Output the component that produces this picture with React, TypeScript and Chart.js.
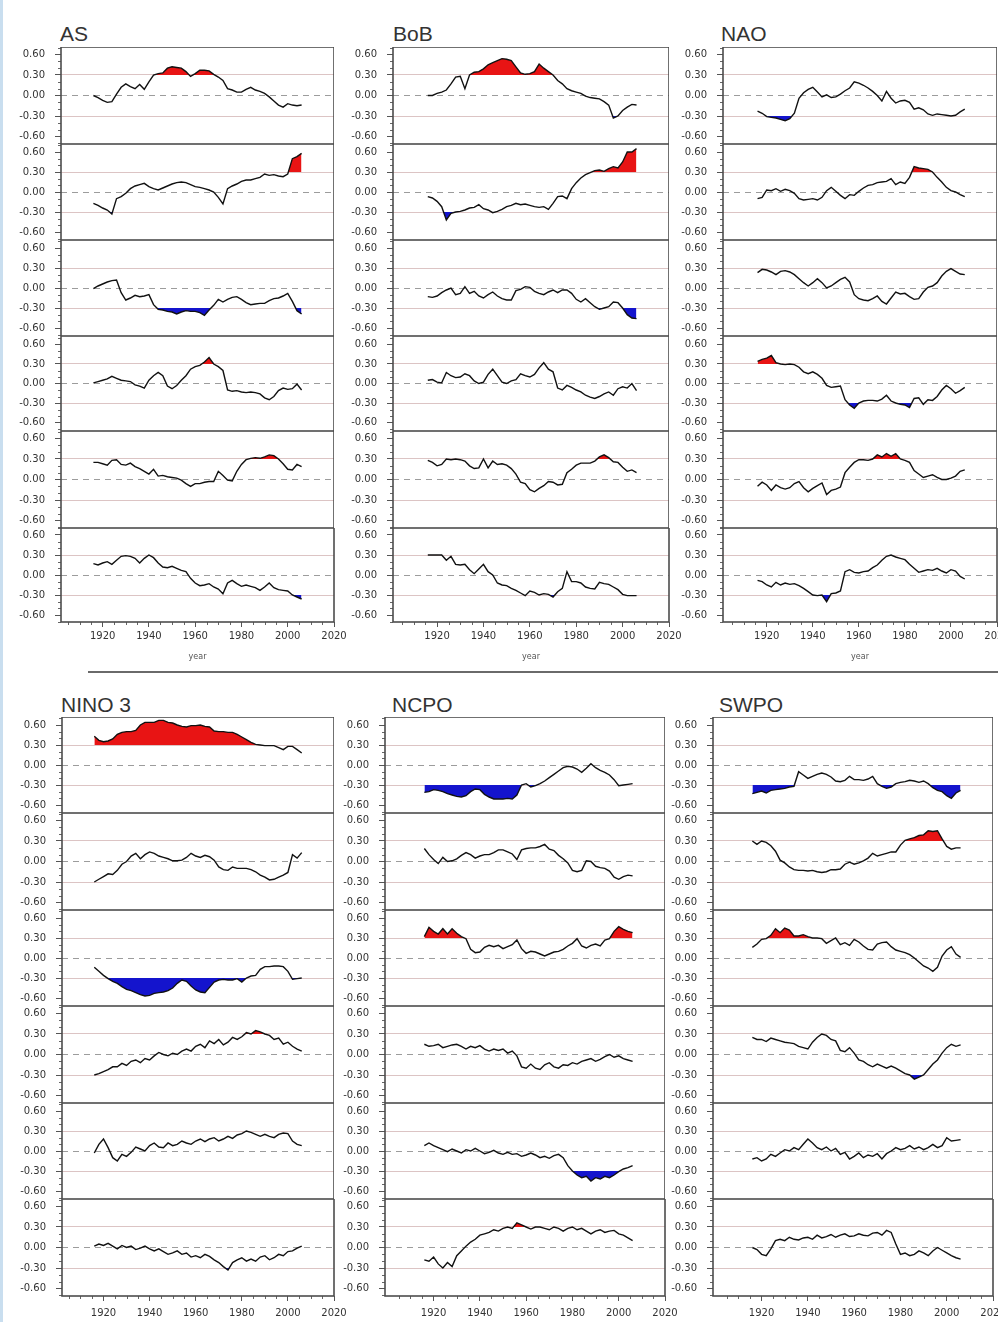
import React, { useEffect, useRef } from 'react';
import { Chart, registerables } from 'chart.js';

Chart.register(...registerables);

const FONT = '"DejaVu Sans", Verdana, sans-serif';
const TITLE_FONT = '"Liberation Sans", Arial, sans-serif';
Chart.defaults.font.family = FONT;

// ---------------- data ----------------
const YEARS = [1916, 1918, 1920, 1922, 1924, 1926, 1928, 1930, 1932, 1934, 1936, 1938, 1940, 1942, 1944, 1946, 1948, 1950, 1952, 1954, 1956, 1958, 1960, 1962, 1964, 1966, 1968, 1970, 1972, 1974, 1976, 1978, 1980, 1982, 1984, 1986, 1988, 1990, 1992, 1994, 1996, 1998, 2000, 2002, 2004, 2006];

const X_TICKS = [1920, 1940, 1960, 1980, 2000, 2020];
const X_MINOR = [1905, 1910, 1915, 1925, 1930, 1935, 1945, 1950, 1955, 1965, 1970, 1975, 1985, 1990, 1995, 2005, 2010, 2015];
const Y_TICKS = [-0.6, -0.3, 0, 0.3, 0.6];
const Y_MINOR = [-0.7, -0.5, -0.4, -0.2, -0.1, 0.1, 0.2, 0.4, 0.5, 0.7];
const HI = 0.3;
const LO = -0.3;

const AS_1 = [0.00, -0.03, -0.07, -0.10, -0.09, 0.02, 0.12, 0.17, 0.13, 0.10, 0.16, 0.09, 0.20, 0.30, 0.32, 0.33, 0.40, 0.42, 0.41, 0.40, 0.35, 0.28, 0.32, 0.37, 0.37, 0.36, 0.31, 0.27, 0.22, 0.10, 0.08, 0.05, 0.05, 0.09, 0.12, 0.08, 0.06, 0.03, -0.02, -0.08, -0.14, -0.17, -0.12, -0.14, -0.15, -0.14];
const AS_2 = [-0.17, -0.20, -0.24, -0.27, -0.33, -0.10, -0.07, -0.02, 0.05, 0.09, 0.11, 0.13, 0.08, 0.05, 0.03, 0.06, 0.09, 0.12, 0.14, 0.15, 0.14, 0.11, 0.08, 0.07, 0.05, 0.03, 0.00, -0.08, -0.18, 0.05, 0.09, 0.12, 0.16, 0.18, 0.18, 0.20, 0.22, 0.27, 0.25, 0.26, 0.24, 0.23, 0.27, 0.50, 0.53, 0.58];
const AS_3 = [-0.01, 0.03, 0.06, 0.09, 0.11, 0.12, -0.07, -0.18, -0.15, -0.11, -0.13, -0.12, -0.10, -0.25, -0.32, -0.33, -0.35, -0.36, -0.39, -0.36, -0.34, -0.35, -0.35, -0.37, -0.41, -0.33, -0.26, -0.17, -0.21, -0.17, -0.14, -0.13, -0.17, -0.22, -0.25, -0.24, -0.23, -0.23, -0.19, -0.16, -0.15, -0.12, -0.08, -0.20, -0.34, -0.39];
const AS_4 = [0.01, 0.03, 0.05, 0.07, 0.11, 0.08, 0.05, 0.04, 0.03, -0.02, -0.04, -0.07, 0.05, 0.12, 0.17, 0.12, -0.04, -0.08, -0.03, 0.05, 0.12, 0.22, 0.26, 0.28, 0.33, 0.40, 0.30, 0.26, 0.20, -0.10, -0.12, -0.11, -0.13, -0.14, -0.13, -0.14, -0.16, -0.22, -0.25, -0.20, -0.11, -0.07, -0.09, -0.08, -0.01, -0.10];
const AS_5 = [0.25, 0.25, 0.23, 0.21, 0.28, 0.29, 0.22, 0.21, 0.24, 0.19, 0.16, 0.12, 0.08, 0.15, 0.05, 0.06, 0.04, 0.03, 0.02, -0.01, -0.06, -0.10, -0.06, -0.06, -0.04, -0.03, -0.03, 0.12, 0.06, -0.01, -0.02, 0.12, 0.22, 0.29, 0.31, 0.32, 0.31, 0.33, 0.36, 0.35, 0.30, 0.23, 0.15, 0.14, 0.22, 0.19];
const AS_6 = [0.17, 0.15, 0.18, 0.20, 0.16, 0.22, 0.28, 0.29, 0.28, 0.25, 0.18, 0.25, 0.30, 0.26, 0.18, 0.12, 0.11, 0.13, 0.10, 0.07, 0.05, -0.05, -0.12, -0.16, -0.15, -0.13, -0.18, -0.21, -0.28, -0.12, -0.08, -0.13, -0.17, -0.15, -0.17, -0.19, -0.23, -0.18, -0.12, -0.19, -0.22, -0.23, -0.24, -0.30, -0.33, -0.36];

const BOB_1 = [0.00, 0.00, 0.03, 0.05, 0.08, 0.17, 0.27, 0.28, 0.10, 0.30, 0.34, 0.35, 0.39, 0.45, 0.48, 0.51, 0.54, 0.53, 0.51, 0.42, 0.33, 0.31, 0.32, 0.35, 0.46, 0.40, 0.35, 0.30, 0.22, 0.17, 0.10, 0.07, 0.05, 0.03, -0.01, -0.03, -0.04, -0.05, -0.09, -0.14, -0.33, -0.30, -0.22, -0.17, -0.13, -0.14];
const BOB_2 = [-0.07, -0.09, -0.14, -0.22, -0.42, -0.32, -0.30, -0.29, -0.27, -0.24, -0.23, -0.19, -0.25, -0.27, -0.31, -0.29, -0.26, -0.22, -0.20, -0.17, -0.19, -0.18, -0.20, -0.22, -0.23, -0.22, -0.26, -0.17, -0.07, -0.06, -0.10, 0.05, 0.14, 0.21, 0.26, 0.29, 0.32, 0.33, 0.31, 0.35, 0.38, 0.36, 0.45, 0.60, 0.60, 0.65];
const BOB_3 = [-0.13, -0.14, -0.12, -0.07, -0.03, 0.00, -0.10, -0.08, 0.02, -0.08, -0.05, -0.12, -0.15, -0.10, -0.06, -0.12, -0.16, -0.18, -0.18, -0.04, -0.02, 0.02, 0.01, -0.05, -0.08, -0.10, -0.06, -0.03, -0.07, -0.03, -0.03, -0.08, -0.17, -0.21, -0.16, -0.22, -0.28, -0.32, -0.30, -0.28, -0.21, -0.22, -0.30, -0.40, -0.45, -0.46];
const BOB_4 = [0.05, 0.06, 0.02, 0.01, 0.17, 0.12, 0.09, 0.10, 0.15, 0.12, 0.04, 0.00, 0.02, 0.14, 0.22, 0.12, 0.02, 0.00, 0.04, 0.06, 0.15, 0.12, 0.10, 0.14, 0.24, 0.32, 0.22, 0.18, -0.07, -0.10, -0.03, -0.06, -0.10, -0.13, -0.18, -0.21, -0.23, -0.20, -0.16, -0.13, -0.18, -0.08, -0.05, -0.07, 0.00, -0.11];
const BOB_5 = [0.28, 0.25, 0.20, 0.22, 0.30, 0.29, 0.30, 0.29, 0.27, 0.20, 0.16, 0.17, 0.30, 0.17, 0.27, 0.22, 0.23, 0.21, 0.16, 0.08, -0.04, -0.06, -0.15, -0.18, -0.13, -0.09, -0.03, -0.04, -0.08, -0.07, 0.10, 0.15, 0.21, 0.24, 0.24, 0.24, 0.27, 0.33, 0.36, 0.32, 0.26, 0.25, 0.18, 0.12, 0.14, 0.10];
const BOB_6 = [0.30, 0.30, 0.30, 0.30, 0.22, 0.28, 0.16, 0.15, 0.16, 0.08, 0.02, 0.09, 0.16, 0.05, 0.00, -0.12, -0.15, -0.16, -0.20, -0.23, -0.27, -0.31, -0.24, -0.26, -0.30, -0.28, -0.29, -0.33, -0.25, -0.20, 0.05, -0.10, -0.10, -0.12, -0.18, -0.20, -0.21, -0.11, -0.13, -0.14, -0.18, -0.22, -0.29, -0.31, -0.31, -0.31];

const NAO_1 = [-0.23, -0.26, -0.31, -0.32, -0.33, -0.35, -0.37, -0.34, -0.26, -0.04, 0.04, 0.09, 0.12, 0.05, -0.02, 0.01, -0.03, -0.02, 0.02, 0.07, 0.11, 0.20, 0.18, 0.15, 0.11, 0.06, 0.00, -0.08, 0.06, -0.04, -0.11, -0.08, -0.07, -0.10, -0.20, -0.18, -0.21, -0.27, -0.29, -0.27, -0.28, -0.29, -0.30, -0.29, -0.24, -0.20];
const NAO_2 = [-0.10, -0.08, 0.03, 0.02, 0.05, 0.01, 0.04, 0.02, -0.02, -0.10, -0.12, -0.11, -0.10, -0.12, -0.08, 0.02, 0.07, 0.01, -0.05, -0.10, -0.04, -0.05, 0.01, 0.06, 0.10, 0.11, 0.14, 0.15, 0.16, 0.20, 0.11, 0.15, 0.13, 0.22, 0.38, 0.36, 0.35, 0.34, 0.30, 0.22, 0.15, 0.07, 0.02, 0.00, -0.04, -0.07];
const NAO_3 = [0.23, 0.28, 0.27, 0.24, 0.20, 0.25, 0.26, 0.24, 0.20, 0.14, 0.08, 0.03, 0.08, 0.14, 0.08, 0.00, 0.03, 0.08, 0.13, 0.16, 0.09, -0.10, -0.16, -0.18, -0.19, -0.16, -0.12, -0.20, -0.24, -0.15, -0.06, -0.09, -0.08, -0.13, -0.17, -0.16, -0.06, 0.01, 0.03, 0.08, 0.18, 0.25, 0.29, 0.25, 0.21, 0.20];
const NAO_4 = [0.34, 0.37, 0.39, 0.43, 0.32, 0.30, 0.29, 0.30, 0.29, 0.25, 0.18, 0.15, 0.18, 0.14, 0.08, -0.03, -0.06, -0.05, -0.04, -0.25, -0.33, -0.38, -0.30, -0.27, -0.26, -0.26, -0.27, -0.24, -0.18, -0.27, -0.30, -0.32, -0.33, -0.37, -0.23, -0.22, -0.32, -0.25, -0.26, -0.20, -0.10, -0.03, -0.08, -0.15, -0.11, -0.06];
const NAO_5 = [-0.10, -0.04, -0.08, -0.16, -0.08, -0.12, -0.14, -0.12, -0.06, -0.03, -0.12, -0.18, -0.13, -0.09, -0.05, -0.22, -0.16, -0.14, -0.11, 0.10, 0.18, 0.25, 0.29, 0.29, 0.28, 0.30, 0.36, 0.33, 0.38, 0.34, 0.38, 0.30, 0.28, 0.25, 0.13, 0.08, 0.03, 0.05, 0.07, 0.03, 0.00, 0.00, 0.02, 0.05, 0.12, 0.14];
const NAO_6 = [-0.08, -0.10, -0.15, -0.18, -0.11, -0.15, -0.12, -0.14, -0.13, -0.16, -0.20, -0.25, -0.30, -0.31, -0.30, -0.40, -0.28, -0.27, -0.24, 0.05, 0.08, 0.04, 0.03, 0.05, 0.06, 0.11, 0.15, 0.22, 0.28, 0.30, 0.27, 0.25, 0.23, 0.16, 0.10, 0.04, 0.06, 0.08, 0.07, 0.10, 0.06, 0.03, 0.08, 0.06, -0.02, -0.06];

const NINO3_1 = [0.43, 0.37, 0.35, 0.36, 0.39, 0.46, 0.49, 0.50, 0.50, 0.52, 0.60, 0.64, 0.64, 0.64, 0.67, 0.67, 0.64, 0.63, 0.60, 0.58, 0.57, 0.59, 0.59, 0.60, 0.58, 0.57, 0.51, 0.50, 0.50, 0.49, 0.49, 0.46, 0.42, 0.38, 0.34, 0.31, 0.30, 0.29, 0.29, 0.29, 0.26, 0.23, 0.28, 0.28, 0.23, 0.18];
const NINO3_2 = [-0.30, -0.26, -0.22, -0.18, -0.19, -0.13, -0.04, 0.00, 0.08, 0.12, 0.04, 0.10, 0.14, 0.12, 0.08, 0.06, 0.04, 0.01, 0.01, 0.02, 0.06, 0.12, 0.08, 0.06, 0.09, 0.07, 0.02, -0.08, -0.12, -0.13, -0.08, -0.10, -0.10, -0.10, -0.12, -0.15, -0.20, -0.23, -0.27, -0.26, -0.23, -0.20, -0.16, 0.10, 0.05, 0.13];
const NINO3_3 = [-0.14, -0.20, -0.26, -0.31, -0.35, -0.38, -0.43, -0.47, -0.49, -0.52, -0.55, -0.57, -0.56, -0.53, -0.52, -0.51, -0.49, -0.45, -0.38, -0.33, -0.35, -0.42, -0.48, -0.51, -0.52, -0.44, -0.36, -0.33, -0.32, -0.33, -0.33, -0.31, -0.36, -0.30, -0.27, -0.26, -0.17, -0.13, -0.13, -0.12, -0.12, -0.13, -0.20, -0.32, -0.31, -0.30];
const NINO3_4 = [-0.30, -0.28, -0.25, -0.22, -0.18, -0.18, -0.13, -0.16, -0.10, -0.08, -0.12, -0.06, -0.08, -0.02, 0.03, 0.00, -0.02, 0.02, 0.00, 0.05, 0.08, 0.05, 0.12, 0.15, 0.10, 0.20, 0.16, 0.22, 0.14, 0.18, 0.25, 0.22, 0.26, 0.32, 0.30, 0.35, 0.33, 0.30, 0.28, 0.22, 0.24, 0.15, 0.18, 0.12, 0.08, 0.05];
const NINO3_5 = [-0.03, 0.10, 0.18, 0.05, -0.10, -0.15, -0.05, -0.08, -0.02, 0.06, 0.03, 0.00, 0.08, 0.12, 0.06, 0.05, 0.12, 0.08, 0.10, 0.15, 0.12, 0.10, 0.15, 0.18, 0.14, 0.18, 0.20, 0.15, 0.18, 0.22, 0.19, 0.24, 0.26, 0.30, 0.28, 0.25, 0.22, 0.25, 0.22, 0.20, 0.25, 0.27, 0.26, 0.15, 0.10, 0.08];
const NINO3_6 = [0.02, 0.05, 0.03, 0.06, 0.02, -0.02, 0.03, 0.00, 0.02, -0.03, -0.01, 0.02, -0.02, -0.05, -0.02, -0.06, -0.10, -0.08, -0.05, -0.10, -0.08, -0.14, -0.12, -0.15, -0.10, -0.13, -0.18, -0.22, -0.28, -0.33, -0.22, -0.18, -0.15, -0.20, -0.17, -0.20, -0.14, -0.12, -0.18, -0.15, -0.10, -0.12, -0.06, -0.05, -0.01, 0.02];

const NCPO_1 = [-0.41, -0.40, -0.37, -0.38, -0.40, -0.43, -0.45, -0.47, -0.48, -0.46, -0.40, -0.36, -0.37, -0.44, -0.48, -0.51, -0.51, -0.51, -0.50, -0.51, -0.45, -0.30, -0.28, -0.33, -0.31, -0.28, -0.24, -0.19, -0.14, -0.09, -0.04, -0.02, -0.03, -0.06, -0.11, -0.05, 0.02, -0.04, -0.08, -0.11, -0.15, -0.22, -0.31, -0.30, -0.29, -0.28];
const NCPO_2 = [0.19, 0.10, 0.03, -0.03, 0.06, 0.00, 0.01, 0.04, 0.09, 0.13, 0.10, 0.05, 0.08, 0.10, 0.10, 0.13, 0.17, 0.17, 0.14, 0.11, 0.03, 0.17, 0.19, 0.20, 0.20, 0.22, 0.25, 0.18, 0.16, 0.09, 0.04, -0.02, -0.13, -0.15, -0.13, 0.01, 0.00, -0.07, -0.09, -0.10, -0.14, -0.23, -0.26, -0.22, -0.20, -0.21];
const NCPO_3 = [0.32, 0.46, 0.40, 0.36, 0.44, 0.36, 0.44, 0.37, 0.32, 0.29, 0.13, 0.08, 0.09, 0.16, 0.19, 0.17, 0.19, 0.14, 0.17, 0.20, 0.27, 0.14, 0.07, 0.10, 0.09, 0.06, 0.03, 0.06, 0.09, 0.10, 0.13, 0.18, 0.22, 0.29, 0.18, 0.15, 0.19, 0.21, 0.18, 0.27, 0.29, 0.40, 0.47, 0.43, 0.40, 0.38];
const NCPO_4 = [0.15, 0.12, 0.13, 0.15, 0.10, 0.12, 0.14, 0.15, 0.12, 0.08, 0.12, 0.10, 0.13, 0.08, 0.05, 0.08, 0.06, 0.08, 0.02, 0.05, -0.02, -0.18, -0.20, -0.14, -0.20, -0.22, -0.15, -0.12, -0.18, -0.20, -0.15, -0.16, -0.12, -0.14, -0.10, -0.08, -0.06, -0.10, -0.07, -0.03, 0.00, -0.04, -0.02, -0.06, -0.08, -0.10];
const NCPO_5 = [0.08, 0.12, 0.08, 0.05, 0.02, -0.01, 0.03, 0.00, -0.03, 0.02, 0.00, 0.04, 0.00, -0.04, -0.02, 0.01, -0.03, -0.05, -0.02, -0.05, -0.04, -0.08, -0.06, -0.03, -0.06, -0.10, -0.08, -0.11, -0.07, -0.05, -0.10, -0.22, -0.30, -0.36, -0.40, -0.38, -0.45, -0.40, -0.42, -0.38, -0.40, -0.36, -0.31, -0.27, -0.25, -0.22];
const NCPO_6 = [-0.18, -0.20, -0.14, -0.24, -0.30, -0.22, -0.28, -0.12, -0.05, 0.02, 0.08, 0.12, 0.18, 0.20, 0.22, 0.26, 0.24, 0.28, 0.30, 0.28, 0.36, 0.33, 0.30, 0.27, 0.30, 0.30, 0.28, 0.26, 0.30, 0.28, 0.24, 0.28, 0.30, 0.26, 0.28, 0.24, 0.20, 0.24, 0.26, 0.22, 0.24, 0.25, 0.20, 0.18, 0.14, 0.10];

const SWPO_1 = [-0.43, -0.41, -0.39, -0.42, -0.38, -0.37, -0.36, -0.35, -0.33, -0.32, -0.10, -0.15, -0.20, -0.17, -0.14, -0.12, -0.14, -0.18, -0.24, -0.25, -0.23, -0.17, -0.22, -0.22, -0.23, -0.21, -0.17, -0.28, -0.32, -0.35, -0.33, -0.28, -0.26, -0.25, -0.23, -0.24, -0.26, -0.24, -0.28, -0.34, -0.38, -0.40, -0.46, -0.50, -0.42, -0.38];
const SWPO_2 = [0.30, 0.25, 0.30, 0.28, 0.23, 0.15, 0.02, -0.02, -0.08, -0.12, -0.13, -0.13, -0.14, -0.13, -0.15, -0.16, -0.15, -0.12, -0.12, -0.11, -0.04, -0.01, -0.04, -0.02, 0.01, 0.05, 0.12, 0.08, 0.10, 0.12, 0.14, 0.14, 0.24, 0.31, 0.33, 0.35, 0.38, 0.39, 0.45, 0.44, 0.45, 0.33, 0.22, 0.18, 0.20, 0.20];
const SWPO_3 = [0.16, 0.21, 0.28, 0.29, 0.34, 0.44, 0.38, 0.45, 0.42, 0.33, 0.33, 0.35, 0.32, 0.30, 0.30, 0.29, 0.22, 0.26, 0.30, 0.20, 0.23, 0.19, 0.28, 0.24, 0.18, 0.13, 0.12, 0.21, 0.23, 0.24, 0.17, 0.12, 0.10, 0.08, 0.05, 0.00, -0.06, -0.12, -0.15, -0.20, -0.14, 0.03, 0.12, 0.17, 0.06, 0.01];
const SWPO_4 = [0.25, 0.22, 0.22, 0.19, 0.24, 0.22, 0.20, 0.18, 0.17, 0.16, 0.12, 0.10, 0.08, 0.18, 0.25, 0.30, 0.28, 0.22, 0.20, 0.06, 0.04, 0.10, 0.02, -0.08, -0.10, -0.15, -0.18, -0.14, -0.17, -0.20, -0.17, -0.20, -0.24, -0.28, -0.30, -0.36, -0.33, -0.30, -0.22, -0.14, -0.08, 0.02, 0.10, 0.15, 0.12, 0.14];
const SWPO_5 = [-0.12, -0.10, -0.15, -0.12, -0.05, -0.08, -0.03, 0.02, 0.00, 0.05, 0.02, 0.10, 0.18, 0.12, 0.05, 0.02, 0.06, 0.00, 0.04, -0.05, -0.02, -0.12, -0.08, -0.03, -0.10, -0.06, -0.08, -0.04, -0.12, -0.04, 0.00, 0.05, 0.02, 0.04, 0.08, 0.03, 0.06, 0.02, 0.05, 0.10, 0.05, 0.08, 0.20, 0.15, 0.16, 0.17];
const SWPO_6 = [0.00, -0.03, -0.10, -0.12, -0.02, 0.10, 0.12, 0.10, 0.15, 0.12, 0.11, 0.14, 0.15, 0.12, 0.18, 0.14, 0.16, 0.19, 0.15, 0.18, 0.20, 0.16, 0.17, 0.20, 0.18, 0.17, 0.21, 0.22, 0.18, 0.25, 0.22, 0.05, -0.10, -0.08, -0.12, -0.10, -0.05, -0.08, -0.12, -0.05, 0.00, -0.04, -0.08, -0.12, -0.15, -0.17];

// ---------------- layout / style ----------------
const RED = 'rgb(232,20,20)';
const BLUE = 'rgb(20,20,205)';
const CLEAR = 'rgba(0,0,0,0)';
const Y_W = 48;
const RIGHT_PAD = 22;

const HALVES = [
  { edges: [47, 144, 240, 336, 431, 528, 622], titleTop: 22, labelPad: 3, axisH: 40, yearTitle: true },
  { edges: [717, 813, 910, 1006, 1103, 1199, 1296], titleTop: 693, labelPad: 6, axisH: 26, yearTitle: false },
];

const GROUPS = [
  { title: 'AS', half: 0, left: 61, right: 334, xMin: 1902, titleLeft: 60, series: [AS_1, AS_2, AS_3, AS_4, AS_5, AS_6] },
  { title: 'BoB', half: 0, left: 393, right: 669, xMin: 1901, titleLeft: 393, series: [BOB_1, BOB_2, BOB_3, BOB_4, BOB_5, BOB_6] },
  { title: 'NAO', half: 0, left: 723, right: 997, xMin: 1901, titleLeft: 721, series: [NAO_1, NAO_2, NAO_3, NAO_4, NAO_5, NAO_6] },
  { title: 'NINO 3', half: 1, left: 62, right: 334, xMin: 1902, titleLeft: 61, series: [NINO3_1, NINO3_2, NINO3_3, NINO3_4, NINO3_5, NINO3_6] },
  { title: 'NCPO', half: 1, left: 385, right: 665, xMin: 1899, titleLeft: 392, series: [NCPO_1, NCPO_2, NCPO_3, NCPO_4, NCPO_5, NCPO_6] },
  { title: 'SWPO', half: 1, left: 713, right: 993, xMin: 1899, titleLeft: 719, series: [SWPO_1, SWPO_2, SWPO_3, SWPO_4, SWPO_5, SWPO_6] },
];

function gridColor(v: any) {
  if (v === undefined || v === null) return CLEAR;
  if (Math.abs(v) < 1e-9) return '#9c9c9c';
  if (Math.abs(Math.abs(v) - 0.3) < 1e-9) return '#dcc4c4';
  return CLEAR;
}

const framePlugin = {
  id: 'frame',
  afterDraw(chart: any, _args: any, opts: any) {
    const { ctx, chartArea: a, scales } = chart;
    ctx.save();
    ctx.strokeStyle = '#666';
    ctx.lineWidth = 1;
    ctx.beginPath();
    for (const v of Y_MINOR) {
      const y = Math.round(scales.y.getPixelForValue(v)) + 0.5;
      ctx.moveTo(a.left - 3, y);
      ctx.lineTo(a.left, y);
    }
    if (opts && opts.bottom) {
      for (const v of X_MINOR) {
        if (v < scales.x.min || v > scales.x.max) continue;
        const x = Math.round(scales.x.getPixelForValue(v)) + 0.5;
        ctx.moveTo(x, a.bottom);
        ctx.lineTo(x, a.bottom + 3);
      }
    }
    ctx.stroke();
    ctx.strokeStyle = '#4d4d4d';
    ctx.lineWidth = 1.6;
    ctx.strokeRect(a.left, a.top, a.right - a.left, a.bottom - a.top);
    ctx.restore();
  },
};

function SubPlot(props: any) {
  const { values, xMin, left, top, plotW, plotH, bottom, half } = props;
  const ref = useRef<HTMLCanvasElement>(null);
  const axisH = bottom ? half.axisH : 0;
  const w = Y_W + plotW + (bottom ? RIGHT_PAD : 0);
  const h = plotH + axisH;
  // choose a symmetric y range (about +-0.71) so the +-0.3 thresholds fall on whole pixels
  const p = Math.round((plotH * 0.42) / 1.44);
  const yMax = HI / (1 - (2 * p) / plotH);

  useEffect(() => {
    if (!ref.current) return;
    const pts = YEARS.map((x, i) => ({ x, y: values[i] }));
    const chart = new Chart(ref.current, {
      type: 'line',
      data: {
        datasets: [
          {
            data: pts,
            borderColor: '#111',
            borderWidth: 1.4,
            pointRadius: 0,
            tension: 0,
            order: 0,
            fill: { target: { value: HI }, above: RED, below: CLEAR },
          } as any,
          {
            data: pts,
            borderColor: CLEAR,
            borderWidth: 0,
            pointRadius: 0,
            tension: 0,
            order: 1,
            fill: { target: { value: LO }, above: CLEAR, below: BLUE },
          } as any,
        ],
      },
      options: {
        responsive: false,
        animation: false,
        events: [],
        layout: { padding: { left: 0, top: 0, bottom: 0, right: bottom ? RIGHT_PAD : 0 } },
        plugins: {
          legend: { display: false },
          tooltip: { enabled: false },
          filler: { drawTime: 'beforeDatasetsDraw' },
          frame: { bottom },
        } as any,
        scales: {
          x: {
            type: 'linear',
            min: xMin,
            max: 2020,
            display: bottom,
            afterBuildTicks: (s: any) => {
              s.ticks = X_TICKS.map((v) => ({ value: v }));
            },
            afterFit: (s: any) => {
              s.height = axisH;
              s.paddingLeft = 0;
              s.paddingRight = 0;
            },
            grid: { drawOnChartArea: false, drawTicks: true, tickLength: 5, tickColor: '#555', color: CLEAR },
            border: { display: false },
            ticks: {
              autoSkip: false,
              maxRotation: 0,
              padding: half.labelPad,
              color: '#333',
              font: { size: 10, family: FONT },
              callback: (v: any) => String(v),
            },
            title: {
              display: half.yearTitle,
              text: 'year',
              color: '#555',
              font: { size: 8, family: FONT },
              padding: { top: 0, bottom: 0 },
            },
          },
          y: {
            type: 'linear',
            min: -yMax,
            max: yMax,
            afterBuildTicks: (s: any) => {
              s.ticks = Y_TICKS.map((v) => ({ value: v }));
            },
            afterFit: (s: any) => {
              s.width = Y_W;
              s.paddingTop = 0;
              s.paddingBottom = 0;
            },
            grid: {
              color: (c: any) => gridColor(c.tick && c.tick.value),
              lineWidth: 1,
              drawTicks: true,
              tickLength: 6,
              tickColor: '#555',
            },
            border: {
              display: false,
              dash: (c: any) => (c.tick && Math.abs(c.tick.value) < 1e-9 ? [6, 5] : []),
            },
            ticks: {
              autoSkip: false,
              padding: 10,
              color: '#333',
              font: { size: 10, family: FONT },
              callback: (v: any) => Number(v).toFixed(2),
            },
          },
        },
      } as any,
      plugins: [framePlugin as any],
    });
    return () => chart.destroy();
  }, [values, xMin, bottom, axisH, yMax]);

  return (
    <canvas
      ref={ref}
      width={w}
      height={h}
      style={{ position: 'absolute', left: left - Y_W, top, width: w, height: h }}
    />
  );
}

export default function App() {
  return (
    <div
      style={{
        position: 'absolute',
        left: 0,
        top: 0,
        width: 998,
        height: 1322,
        overflow: 'hidden',
        background: '#fff',
      }}
    >
      <div style={{ position: 'absolute', left: 0, top: 0, width: 3, height: 1322, background: '#c9deef' }} />
      <div style={{ position: 'absolute', left: 88, top: 671, width: 910, height: 2, background: '#6a6a6a' }} />
      {GROUPS.map((g) => {
        const half = HALVES[g.half];
        return (
          <React.Fragment key={g.title}>
            <div
              style={{
                position: 'absolute',
                left: g.titleLeft,
                top: half.titleTop,
                fontFamily: TITLE_FONT,
                fontSize: 21,
                lineHeight: 'normal',
                color: '#333',
                whiteSpace: 'nowrap',
              }}
            >
              {g.title}
            </div>
            {g.series.map((s, k) => (
              <SubPlot
                key={k}
                values={s}
                xMin={g.xMin}
                left={g.left}
                top={half.edges[k]}
                plotW={g.right - g.left}
                plotH={half.edges[k + 1] - half.edges[k]}
                bottom={k === 5}
                half={half}
              />
            ))}
          </React.Fragment>
        );
      })}
    </div>
  );
}
